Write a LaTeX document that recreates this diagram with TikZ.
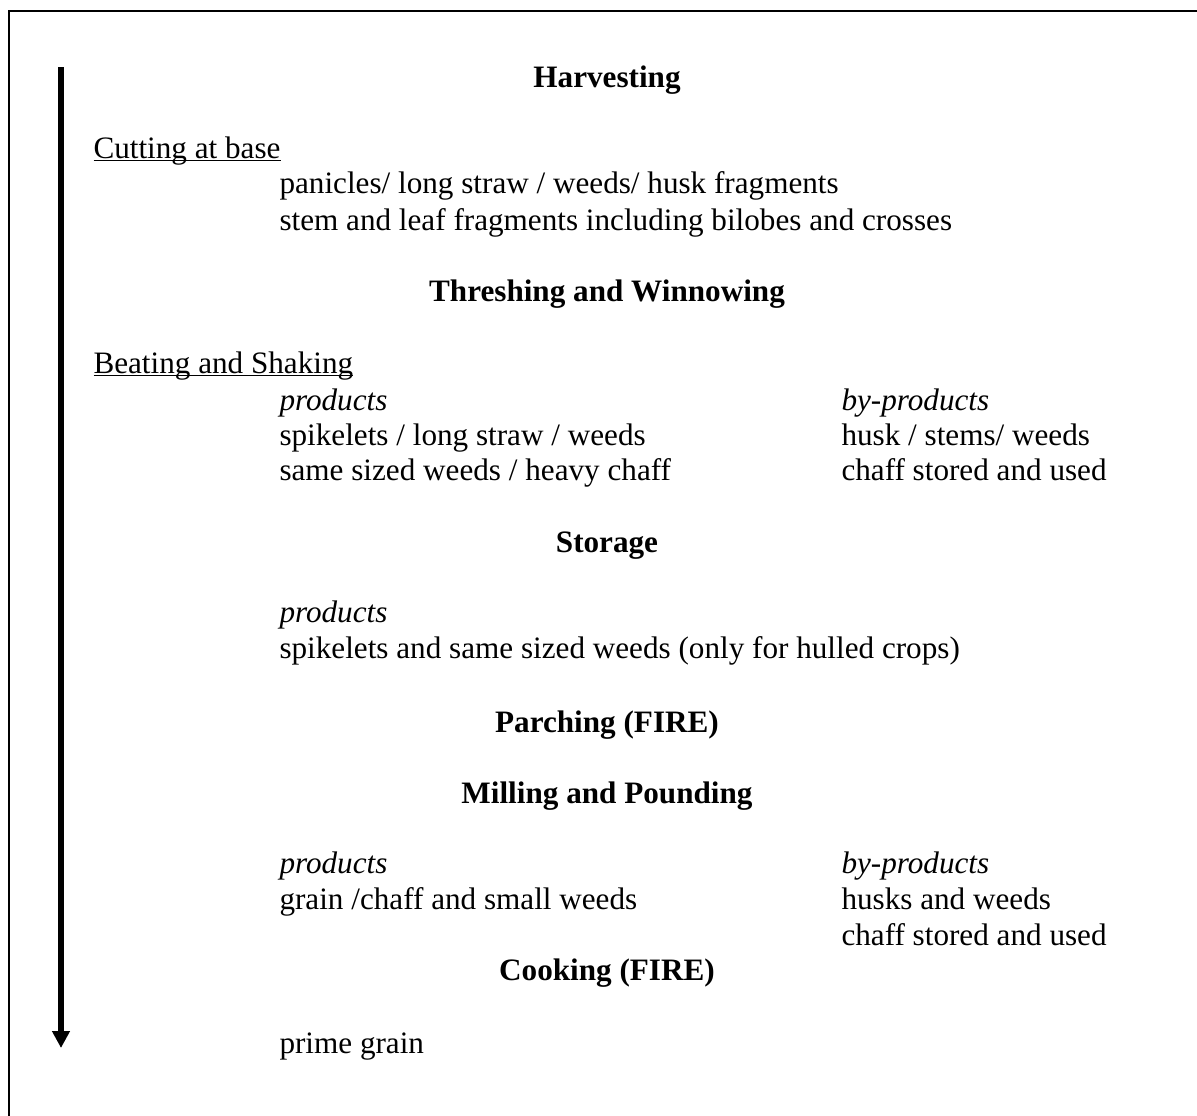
\documentclass[tikz,border=0pt]{standalone}
\usepackage{fontspec}
\setmainfont{Liberation Serif}
\usetikzlibrary{arrows.meta}
\newcommand\wordul[1]{\setbox0\hbox{#1}\rlap{\rule[-1.3pt]{\wd0}{0.65pt}}\box0}
\begin{document}
\begin{tikzpicture}[x=0.385pt,y=-0.385pt,
  every node/.style={inner sep=0pt, font=\fontsize{12pt}{13.8pt}\selectfont},
  heading/.style={anchor=base, font=\fontsize{12pt}{13.8pt}\selectfont\bfseries},
  txt/.style={anchor=base west},
  itxt/.style={anchor=base west, font=\fontsize{12pt}{13.8pt}\selectfont\itshape},
  frame/.style={line width=0.6pt},
  flow/.style={line width=2pt, -{Triangle[width=6.5pt,length=6.5pt]}}]
\useasboundingbox (0,0) rectangle (1197,1115);
% frame (only top and left edges visible)
\draw[frame] (9,1140) -- (9,11) -- (1220,11);
% flow arrow
\coordinate (atop) at (61,67);
\coordinate (abot) at (61,1048);
\draw[flow] (atop) -- (abot);
% headings
\node[heading] (h1) at (607,87) {Harvesting};
\node[heading] (h2) at (607,301) {Threshing and Winnowing};
\node[heading] (h3) at (607,552) {Storage};
\node[heading] (h4) at (607,732) {Parching (FIRE)};
\node[heading] (h5) at (607,803) {Milling and Pounding};
\node[heading] (h6) at (607,980) {Cooking (FIRE)};
% sub-steps
\node[txt] (s1) at (93,158) {\wordul{Cutting at base}};
\node[txt] (s2) at (93,373) {\wordul{Beating and Shaking}};
% harvesting contents
\node[txt] (t1) at (279,193) {panicles/ long straw / weeds/ husk fragments};
\node[txt] (t2) at (279,230) {stem and leaf fragments including bilobes and crosses};
% threshing contents
\node[itxt] (p1) at (279,410) {products};
\node[txt] (t3) at (279,445) {spikelets / long straw / weeds};
\node[txt] (t4) at (279,480) {same sized weeds / heavy chaff};
\node[itxt] (b1) at (841,410) {by-products};
\node[txt] (t5) at (841,445) {husk / stems/ weeds};
\node[txt] (t6) at (841,480) {chaff stored and used};
% storage contents
\node[itxt] (p2) at (279,622) {products};
\node[txt] (t7) at (279,658) {spikelets and same sized weeds (only for hulled crops)};
% milling contents
\node[itxt] (p3) at (279,873) {products};
\node[txt] (t8) at (279,909) {grain /chaff and small weeds};
\node[itxt] (b2) at (841,873) {by-products};
\node[txt] (t9) at (841,909) {husks and weeds};
\node[txt] (t10) at (841,945) {chaff stored and used};
% cooking
\node[txt] (t11) at (279,1053) {prime grain};
\end{tikzpicture}
\end{document}
